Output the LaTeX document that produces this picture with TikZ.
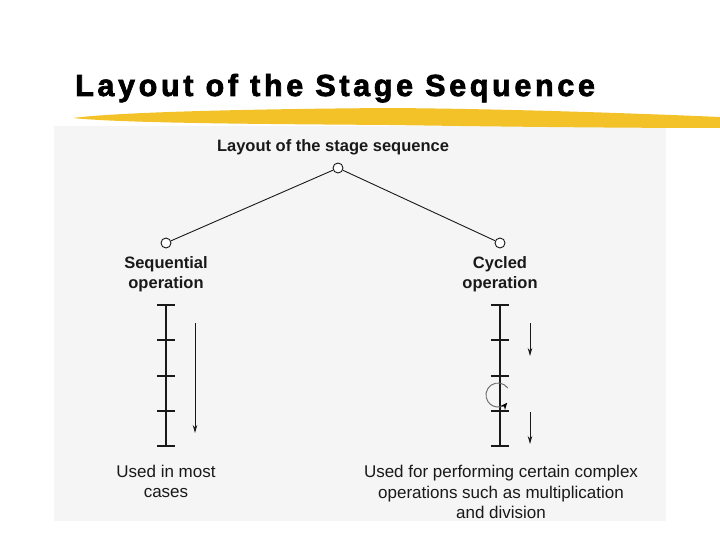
\documentclass[tikz,border=0pt]{standalone}
\usepackage{fontspec}
\setmainfont{Liberation Sans}
\newfontfamily\titlefont[LetterSpace=12,FakeBold=2.4]{Liberation Sans}
\usetikzlibrary{arrows.meta}
\definecolor{hilite}{RGB}{242,194,40}
\definecolor{scanbg}{RGB}{245,245,245}
\definecolor{ink}{RGB}{25,25,25}
\tikzset{
  dot/.style={circle,draw=ink,fill=white,line width=0.9pt,minimum size=10pt,inner sep=0pt},
  lbl/.style={font=\fontsize{16.5}{20.5}\selectfont\bfseries,align=center,text=ink,inner sep=0pt},
  txt/.style={font=\fontsize{17}{20.5}\selectfont,align=center,text=ink,inner sep=0pt},
  rail/.style={line width=1.7pt,draw=ink},
  tick/.style={line width=1.7pt,draw=ink},
  flow/.style={line width=0.9pt,draw=ink,-{Stealth[length=8pt,width=4.5pt]}},
  branch/.style={line width=0.9pt,draw=ink}
}
\begin{document}
\begin{tikzpicture}[x=1pt,y=-1pt]
\useasboundingbox (0,0) rectangle (720,540);
\fill[white] (0,0) rectangle (720,540);
% scanned figure background
\fill[scanbg] (54,126) rectangle (666,521);
% highlighter stroke
\fill[hilite] (73,118) .. controls (120,112) and (250,109) .. (390,108)
  .. controls (520,109) and (650,114) .. (720,117) -- (720,128)
  .. controls (640,128) and (520,127) .. (390,125)
  .. controls (250,124) and (120,123) .. (73,118) -- cycle;
% title
\node[anchor=base west,inner sep=0pt,font=\titlefont\fontsize{30.5}{34}\selectfont\bfseries] (title) at (75,96) {Layout of the Stage Sequence};

% diagram
\node[lbl] (head) at (333,147) {Layout of the stage sequence};
\node[dot] (top) at (338,168) {};
\node[dot] (l) at (166,243) {};
\node[dot] (r) at (500,243) {};
\draw[branch] (top) -- (l);
\draw[branch] (top) -- (r);
\node[lbl] (seq) at (166,274) {Sequential\\operation};
\node[lbl] (cyc) at (500,274) {Cycled\\operation};

% left ladder
\coordinate (lt) at (166,305);
\coordinate (lb) at (166,446);
\draw[rail] (lt) -- (lb);
\foreach \yy in {305,340,376,411,446}{\draw[tick] (157,\yy) -- (175,\yy);}
\coordinate (la1) at (195,323);
\coordinate (la2) at (195,433);
\draw[flow] (la1) -- (la2);

% right ladder
\coordinate (rt) at (500,305);
\coordinate (rb) at (500,446);
\draw[rail] (rt) -- (rb);
\foreach \yy in {305,340,376,411,446}{\draw[tick] (491,\yy) -- (509,\yy);}
\coordinate (ra1) at (530,323);
\coordinate (ra2) at (530,356);
\draw[flow] (ra1) -- (ra2);
\coordinate (rb1) at (530,412);
\coordinate (rb2) at (530,444);
\draw[flow] (rb1) -- (rb2);
% cycle loop
\coordinate (loopstart) at (507.8,388.1);
\draw[line width=0.9pt,draw=black!60,-{Stealth[length=7pt,width=6pt,black]}]
  (loopstart) arc[start angle=-35,end angle=-320,radius=12];

\node[txt] (ul) at (166,481.5) {Used in most\\cases};
\node[txt] (ur) at (501,492) {Used for performing certain complex\\operations such as multiplication\\and division};
\end{tikzpicture}
\end{document}
